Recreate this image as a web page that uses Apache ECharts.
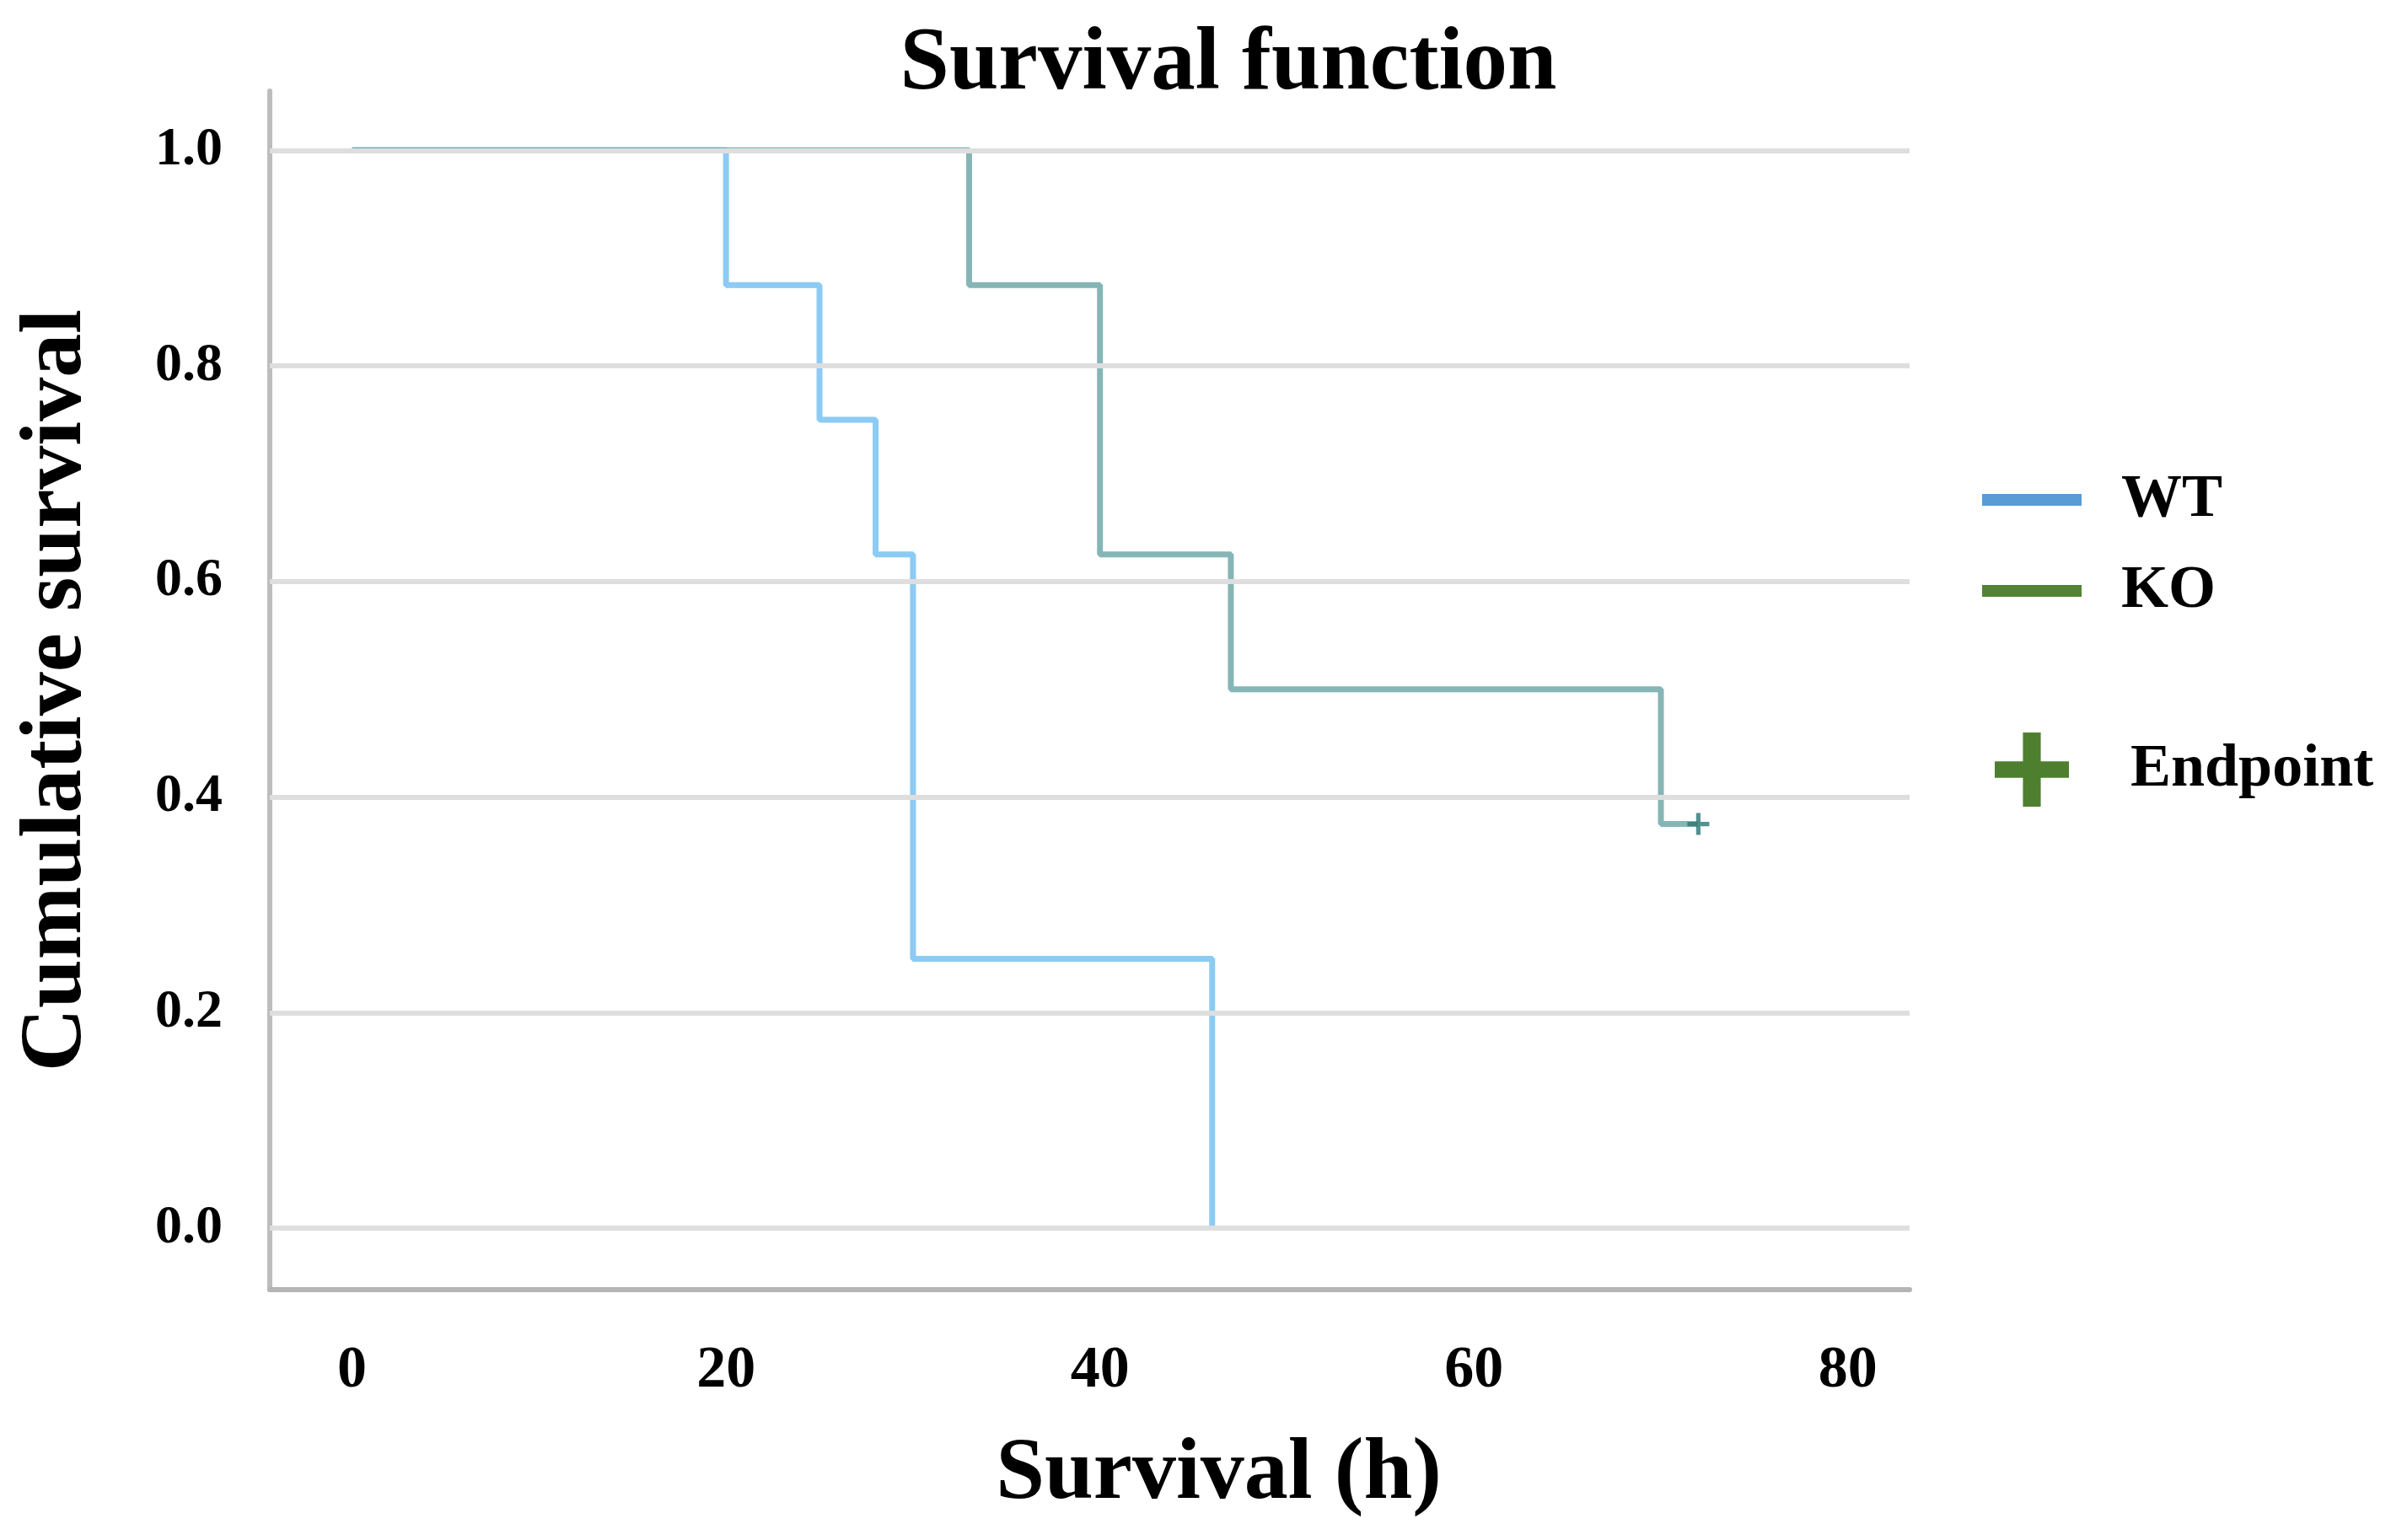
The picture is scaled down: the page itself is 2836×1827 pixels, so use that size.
<!DOCTYPE html>
<html>
<head>
<meta charset="utf-8">
<script src="https://cdn.jsdelivr.net/npm/echarts@6/dist/echarts.min.js"></script>
<style>
html,body{margin:0;padding:0;background:#fff;}
#c{width:2836px;height:1827px;}
</style>
</head>
<body>
<div id="c"></div>
<script>
// Kaplan-Meier step points [time (h), cumulative survival]
const wtTimes = [0, 20, 25, 28, 30, 46];
const wtSurv  = [1.0, 0.875, 0.75, 0.625, 0.25, 0.0];
const koTimes = [0, 33, 40, 47, 70, 72];
const koSurv  = [1.0, 0.875, 0.625, 0.5, 0.375, 0.375];
const censorTimes = [72];
const censorSurv  = [0.375];
const xTicks = [0, 20, 40, 60, 80];
const yTicks = [0, 0.2, 0.4, 0.6, 0.8, 1.0];

const FONT = '"Liberation Serif", "Times New Roman", serif';
const zip = (a, b) => a.map((v, i) => [v, b[i]]);
const plusPath = 'path://M8,0H12V8H20V12H12V20H8V12H0V8H8Z';
const legendPlus = 'path://M7.6,0H12.4V7.8H20V12.2H12.4V20H7.6V12.2H0V7.8H7.6Z';

const chart = echarts.init(document.getElementById('c'), null, {renderer: 'canvas'});
chart.setOption({
  animation: false,
  backgroundColor: '#ffffff',
  title: {
    text: 'Survival function',
    left: 1452, top: 20, textAlign: 'center',
    textStyle: {fontFamily: FONT, fontWeight: 'bold', fontSize: 105, color: '#000'}
  },
  grid: {left: 320, right: 571, top: 108, bottom: 297, containLabel: false},
  legend: [
    {
      orient: 'vertical', left: 2346, top: 552,
      itemWidth: 118, itemHeight: 14, itemGap: 36,
      textStyle: {fontFamily: FONT, fontWeight: 'bold', fontSize: 72, color: '#000', lineHeight: 72, padding: [0, 0, 0, 42]},
      data: [
        {name: 'WT', icon: 'rect', itemStyle: {color: '#5B9BD5', opacity: 1}},
        {name: 'KO', icon: 'rect', itemStyle: {color: '#548235', opacity: 1}}
      ],
      selectedMode: false
    },
    {
      orient: 'vertical', left: 2361, top: 864,
      itemWidth: 94, itemHeight: 88,
      textStyle: {fontFamily: FONT, fontWeight: 'bold', fontSize: 72, color: '#000', padding: [0, 0, 0, 65]},
      data: [{name: 'Endpoint', icon: legendPlus, itemStyle: {color: '#4e7f2e', opacity: 1}}],
      selectedMode: false
    }
  ],
  xAxis: {
    type: 'value', min: -4.4, max: 83.3,
    name: 'Survival (h)', nameLocation: 'middle', nameGap: 168,
    nameTextStyle: {fontFamily: FONT, fontWeight: 'bold', fontSize: 104, color: '#000', padding: [0, 0, 0, 306]},
    axisLine: {show: true, onZero: false, lineStyle: {color: '#b5b5b5', width: 6}},
    axisTick: {show: false},
    splitLine: {show: false},
    axisLabel: {customValues: xTicks, margin: 62, fontFamily: FONT, fontWeight: 'bold', fontSize: 70, color: '#000'}
  },
  yAxis: {
    type: 'value', min: -0.057, max: 1.055,
    name: 'Cumulative survival', nameLocation: 'middle', nameGap: 200,
    nameTextStyle: {fontFamily: FONT, fontWeight: 'bold', fontSize: 104, color: '#000'},
    axisLine: {show: true, onZero: false, lineStyle: {color: '#bdbdbd', width: 6}},
    axisTick: {show: false},
    splitLine: {show: false},
    axisLabel: {customValues: yTicks, margin: 56, fontFamily: FONT, fontWeight: 'bold', fontSize: 64, color: '#000',
      formatter: v => v.toFixed(1)}
  },
  series: [
    {
      name: 'grid', type: 'line', data: [], z: 1, silent: true,
      markLine: {
        silent: true, symbol: 'none', animation: false,
        label: {show: false},
        lineStyle: {color: '#dedede', width: 6, type: 'solid'},
        data: yTicks.map(v => ({yAxis: v}))
      }
    },
    {
      name: 'WT', type: 'line', step: 'end', data: zip(wtTimes, wtSurv),
      showSymbol: false, symbol: 'none', z: 3,
      lineStyle: {color: '#8ccbf3', width: 7},
      itemStyle: {color: '#8ccbf3'}
    },
    {
      name: 'KO', type: 'line', step: 'end', data: zip(koTimes, koSurv),
      showSymbol: false, symbol: 'none', z: 4,
      lineStyle: {color: 'rgba(92,158,156,0.75)', width: 7},
      itemStyle: {color: '#7fb5b0'}
    },
    {
      name: 'Endpoint', type: 'scatter', data: zip(censorTimes, censorSurv),
      symbol: plusPath, symbolSize: 26, z: 5,
      itemStyle: {color: '#2b7570'}
    }
  ]
});
</script>
</body>
</html>
